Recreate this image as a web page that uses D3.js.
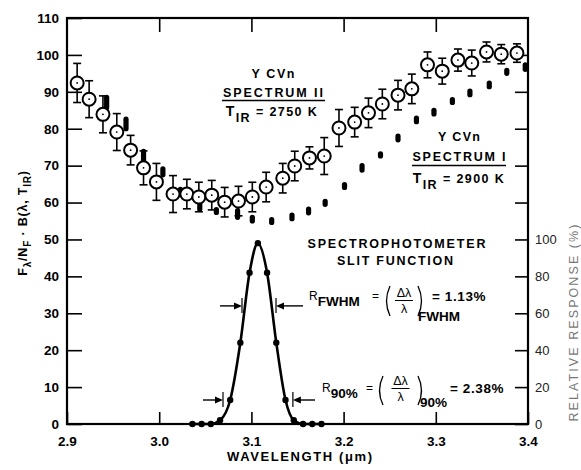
<!DOCTYPE html>
<html><head><meta charset="utf-8">
<script src="https://cdn.jsdelivr.net/npm/d3@7/dist/d3.min.js"></script>
<style>
body{margin:0;background:#fff}
text{font-family:"Liberation Sans",Arial,Helvetica,sans-serif}
</style>
</head><body>
<svg id="c" width="581" height="470"></svg>
<script>
// ---- data ----
const xTicks=[2.9,3.0,3.1,3.2,3.3,3.4];
const yTicks=[0,10,20,30,40,50,60,70,80,90,100,110];
const rTicks=[0,20,40,60,80,100];
const rExtraTicks=[60,70,80,90,100];

// Spectrum II (open circles with error bars)
const spec2Wave=[2.911,2.924,2.939,2.954,2.969,2.983,2.997,3.015,3.030,3.043,3.057,3.071,3.086,3.101,3.116,3.134,3.147,3.163,3.179,3.195,3.212,3.227,3.242,3.259,3.274,3.291,3.307,3.324,3.339,3.355,3.371,3.388];
const spec2Val=[92.4,88.0,83.9,79.1,74.2,69.4,65.6,62.3,62.3,61.5,62.0,60.1,60.4,61.5,64.2,66.6,69.9,72.1,72.6,80.2,81.8,84.3,86.7,89.1,90.8,97.3,95.6,98.6,97.8,100.8,100.2,100.5];
const spec2Err=[5.3,5,5,5,4,4.6,5,5,4,4,4,4,4,4,4,4,4,3,5,5,4,4,4,4,4,3.5,3.5,3,3.5,2.7,2.6,2.5];

// Spectrum I (filled dots)
const spec1Wave=[2.943,2.964,2.983,3.004,3.023,3.044,3.062,3.085,3.101,3.122,3.144,3.162,3.180,3.201,3.220,3.240,3.259,3.279,3.298,3.318,3.337,3.358,3.377,3.397];
const spec1Val=[87.1,81.3,72.6,68.3,62.9,59.1,57.7,56.9,55.5,55.0,56.1,57.7,59.9,64.5,69.4,72.9,77.5,82.4,84.5,87.5,89.7,91.9,95.4,96.7];
const spec1Spread=[2.1,2.0,2.0,1.5,1.4,1.6,1.1,1.6,1.2,1.1,1.2,1.2,1.1,1.1,1.3,1.0,1.2,1.2,1.2,1.1,1.2,1.2,1.1,1.3];

// Slit function (relative response %)
const slitWave=[3.036,3.046,3.056,3.066,3.077,3.088,3.098,3.107,3.117,3.127,3.137,3.146,3.156,3.166,3.176];
const slitResp=[0,0,0,2,13,44,82,98,82,44,13,2,0,0,0];

// ---- chart ----
const svg=d3.select("#c");
const x=d3.scaleLinear().domain([2.9,3.4]).range([67,528]);
const y=d3.scaleLinear().domain([0,110]).range([424,18]);
const yR=d3.scaleLinear().domain([0,100]).range([y(0),y(50)]);

function styleAxis(g,size,weight){
  g.select(".domain").remove();
  g.selectAll(".tick line").attr("stroke","#000").attr("stroke-width",1.6);
  g.selectAll(".tick text").attr("fill","#000").attr("font-size",size).attr("font-weight",weight)
    .attr("font-family",'"Liberation Sans",Arial,sans-serif');
}
svg.append("g").attr("transform",`translate(0,${y(0)})`)
  .call(d3.axisBottom(x).tickValues(xTicks).tickFormat(d3.format(".1f")).tickSize(-12).tickSizeOuter(0).tickPadding(12))
  .call(g=>styleAxis(g,13.5,"bold"));
svg.append("g").attr("transform",`translate(0,${y(110)})`)
  .call(d3.axisTop(x).tickValues([3.0,3.1,3.2,3.3]).tickFormat("").tickSize(-14).tickSizeOuter(0))
  .call(g=>styleAxis(g,13,"bold"));
svg.append("g").attr("transform",`translate(${x(2.9)},0)`)
  .call(d3.axisLeft(y).tickValues(yTicks).tickSize(-15).tickSizeOuter(0).tickPadding(8))
  .call(g=>styleAxis(g,13.5,"bold"));
svg.append("g").attr("transform",`translate(${x(3.4)},0)`)
  .call(d3.axisRight(yR).tickValues(rTicks).tickSize(-13).tickSizeOuter(0).tickPadding(7))
  .call(g=>styleAxis(g,13,"normal"))
  .call(g=>g.selectAll(".tick text").attr("fill","#222"));
svg.append("g").attr("transform",`translate(${x(3.4)},0)`)
  .call(d3.axisRight(y).tickValues(rExtraTicks).tickFormat("").tickSize(-13).tickSizeOuter(0))
  .call(g=>styleAxis(g,13,"normal"));

// frame
svg.append("rect").attr("x",x(2.9)).attr("y",y(110))
  .attr("width",x(3.4)-x(2.9)).attr("height",y(0)-y(110))
  .attr("fill","none").attr("stroke","#000").attr("stroke-width",2.2);

// Spectrum I
const s1=spec1Wave.map((w,i)=>({w,v:spec1Val[i],s:spec1Spread[i]}));
svg.append("g").selectAll("rect").data(s1).join("rect")
  .attr("x",d=>x(d.w)-2.6).attr("width",5.2)
  .attr("y",d=>y(d.v+d.s)).attr("height",d=>y(d.v-d.s)-y(d.v+d.s))
  .attr("rx",2.6).attr("fill","#000");

// Spectrum II
const s2=spec2Wave.map((w,i)=>({w,v:spec2Val[i],e:spec2Err[i]}));
const g2=svg.append("g").selectAll("g").data(s2).join("g");
g2.append("line").attr("x1",d=>x(d.w)).attr("x2",d=>x(d.w))
  .attr("y1",d=>y(d.v+d.e)).attr("y2",d=>y(d.v-d.e)).attr("stroke","#000").attr("stroke-width",1.6);
g2.append("line").attr("x1",d=>x(d.w)-4).attr("x2",d=>x(d.w)+4)
  .attr("y1",d=>y(d.v+d.e)).attr("y2",d=>y(d.v+d.e)).attr("stroke","#000").attr("stroke-width",1.6);
g2.append("line").attr("x1",d=>x(d.w)-4).attr("x2",d=>x(d.w)+4)
  .attr("y1",d=>y(d.v-d.e)).attr("y2",d=>y(d.v-d.e)).attr("stroke","#000").attr("stroke-width",1.6);
g2.append("circle").attr("cx",d=>x(d.w)).attr("cy",d=>y(d.v)).attr("r",6.5)
  .attr("fill","#fff").attr("stroke","#000").attr("stroke-width",2);
g2.append("circle").attr("cx",d=>x(d.w)).attr("cy",d=>y(d.v)).attr("r",0.9).attr("fill","#000");

// Slit function
const sl=slitWave.map((w,i)=>({w,r:slitResp[i]}));
svg.append("path").datum(sl)
  .attr("d",d3.line().x(d=>x(d.w)).y(d=>yR(d.r)).curve(d3.curveMonotoneX))
  .attr("fill","none").attr("stroke","#000").attr("stroke-width",2.6);
svg.append("g").selectAll("circle").data(sl).join("circle")
  .attr("cx",d=>x(d.w)).attr("cy",d=>yR(d.r)).attr("r",3.2).attr("fill","#000");

// width arrows
function arrow(fromW,tipW,level){
  const yy=yR(level), x0=x(fromW), x1=x(tipW), dir=Math.sign(x1-x0);
  svg.append("line").attr("x1",x0).attr("x2",x1-dir*6).attr("y1",yy).attr("y2",yy)
    .attr("stroke","#000").attr("stroke-width",1.4);
  svg.append("path").attr("d",`M${x1},${yy}L${x1-dir*8},${yy-3.5}L${x1-dir*8},${yy+3.5}Z`).attr("fill","#000");
  svg.append("line").attr("x1",x1).attr("x2",x1).attr("y1",yy-8).attr("y2",yy+7)
    .attr("stroke","#000").attr("stroke-width",1.2);
}
arrow(3.066,3.0898,64); arrow(3.156,3.1267,64);
arrow(3.0475,3.0692,13); arrow(3.169,3.145,13);

// ---- text ----
function txt(xx,yy,s,o={}){
  const t=svg.append("text").attr("x",xx).attr("y",yy).text(s)
    .attr("font-size",o.size||12.5).attr("font-weight",o.weight||"bold")
    .attr("text-anchor",o.anchor||"start").attr("fill",o.fill||"#000");
  if(o.len) t.attr("textLength",o.len).attr("lengthAdjust","spacing");
  if(o.ls) t.attr("letter-spacing",o.ls);
  return t;
}
function tir(cx,by,val){
  const t=svg.append("text").attr("x",cx).attr("y",by).attr("text-anchor","middle")
    .attr("font-size",12.5).attr("font-weight","bold").attr("letter-spacing",1.4);
  t.append("tspan").text("T").attr("font-size",14);
  t.append("tspan").text("IR").attr("dy",6);
  t.append("tspan").text(" = "+val).attr("dy",-6);
}
// Spectrum II label
txt(273,78,"Y CVn",{anchor:"middle",len:43});
txt(273,96.5,"SPECTRUM II",{anchor:"middle",len:100});
svg.append("line").attr("x1",222).attr("x2",325).attr("y1",100.5).attr("y2",100.5).attr("stroke","#000").attr("stroke-width",1.3);
tir(272,116,"2750 K");
// Spectrum I label
txt(459,141,"Y CVn",{anchor:"middle",len:42});
txt(459,161,"SPECTRUM I",{anchor:"middle",len:93});
svg.append("line").attr("x1",412).attr("x2",506).attr("y1",165.5).attr("y2",165.5).attr("stroke","#000").attr("stroke-width",1.3);
tir(459,182.5,"2900 K");

// slit function title
txt(396.5,248,"SPECTROPHOTOMETER",{anchor:"middle",len:178});
txt(395,265,"SLIT FUNCTION",{anchor:"middle",len:116});

// formulas
function paren(xx,top,bot,dir){
  const mid=(top+bot)/2;
  svg.append("path").attr("d",`M${xx},${top}Q${xx-dir*7},${mid} ${xx},${bot}`)
    .attr("fill","none").attr("stroke","#000").attr("stroke-width",1.3);
}
function formula(rx,by,sub,eqx,px0,px1,top,bot,fb,subx,suby,valx,val){
  const t=svg.append("text").attr("x",rx).attr("y",by).attr("font-size",12).attr("font-weight","normal");
  t.append("tspan").text("R");
  t.append("tspan").text(sub).attr("dy",6).attr("font-size",13.5).attr("font-weight","bold");
  txt(eqx,by,"=",{size:12,weight:"normal"});
  paren(px0,top,bot,1); paren(px1,top,bot,-1);
  const cx=(px0+px1)/2;
  txt(cx,fb-4,"Δλ",{anchor:"middle",size:12.5,weight:"normal"});
  svg.append("line").attr("x1",cx-9).attr("x2",cx+9).attr("y1",fb).attr("y2",fb).attr("stroke","#000").attr("stroke-width",1);
  txt(cx,fb+12,"λ",{anchor:"middle",size:12.5,weight:"normal"});
  txt(subx,suby,sub,{size:13.5,weight:"bold"});
  txt(valx,by+1,"= "+val,{size:13.5,weight:"bold",ls:0.6});
}
formula(309,300,"FWHM",372,390,418,286,316,300.5,418,321,432,"1.13%");
formula(322,392,"90%",366,383,418,376,405,388.5,420,407,450,"2.38%");

// axis titles
txt(299.5,461,"WAVELENGTH (μm)",{anchor:"middle",size:13,len:145});
const yl=svg.append("text").attr("transform","translate(27,223) rotate(-90)")
  .attr("text-anchor","middle").attr("font-size",12.5).attr("font-weight","bold").attr("letter-spacing",0.8);
yl.append("tspan").text("F");
yl.append("tspan").text("λ").attr("dy",4).attr("font-size",10);
yl.append("tspan").text("/N").attr("dy",-4);
yl.append("tspan").text("F").attr("dy",4).attr("font-size",10);
yl.append("tspan").text(" · B(λ, T").attr("dy",-4);
yl.append("tspan").text("IR").attr("dy",4).attr("font-size",10);
yl.append("tspan").text(")").attr("dy",-4);
svg.append("text").attr("transform","translate(578,323) rotate(-90)")
  .attr("text-anchor","middle").attr("font-size",12.5).attr("fill","#777")
  .attr("textLength",197).attr("lengthAdjust","spacing")
  .text("RELATIVE RESPONSE (%)");
</script>
</body></html>
